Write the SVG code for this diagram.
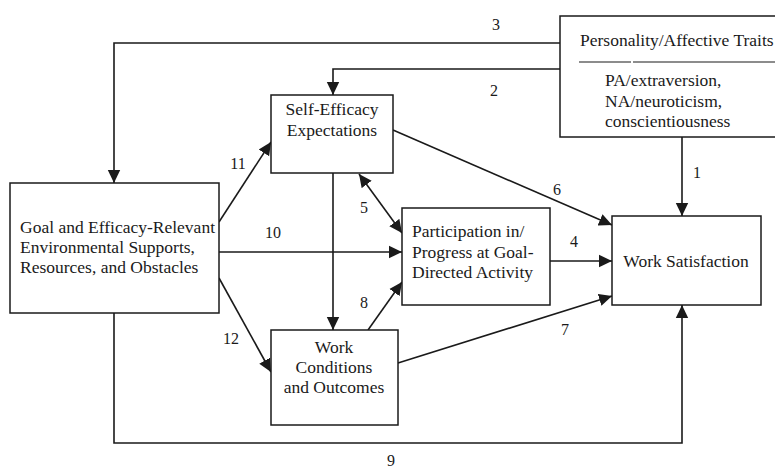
<svg xmlns="http://www.w3.org/2000/svg" width="775" height="470" viewBox="0 0 775 470">
  <style>
    .box { fill: #ffffff; stroke: #1a1a1a; stroke-width: 1.5; }
    .t { font-family: "Liberation Serif", "Times New Roman", serif; font-size: 17.5px; fill: #1a1a1a; }
    .c { text-anchor: middle; }
    .lbl { font-family: "Liberation Serif", "Times New Roman", serif; font-size: 16px; fill: #1a1a1a; text-anchor: middle; }
    .ln { fill: none; stroke: #1a1a1a; stroke-width: 1.6; }
    .arr { marker-end: url(#ah); }
    .bi { marker-start: url(#ahs); marker-end: url(#ah); }
  </style>
  <defs>
    <marker id="ah" markerUnits="userSpaceOnUse" markerWidth="14" markerHeight="14" viewBox="0 0 14 14" refX="13" refY="7" orient="auto">
      <path d="M0,0.8 L13,7 L0,13.2 Z" fill="#1a1a1a"/>
    </marker>
    <marker id="ahs" markerUnits="userSpaceOnUse" markerWidth="14" markerHeight="14" viewBox="0 0 14 14" refX="1" refY="7" orient="auto">
      <path d="M14,0.8 L1,7 L14,13.2 Z" fill="#1a1a1a"/>
    </marker>
  </defs>
  <rect width="775" height="470" fill="#ffffff"/>

  <g id="connectors">
    <line class="ln arr" x1="682" y1="137" x2="682" y2="216"/>
    <path class="ln arr" d="M560,69 H333 V95"/>
    <path class="ln arr" d="M560,43 H114 V183"/>
    <line class="ln arr" x1="550" y1="261" x2="612" y2="261"/>
    <line class="ln bi" x1="359" y1="174" x2="402" y2="233"/>
    <line class="ln arr" x1="393" y1="130" x2="612" y2="225"/>
    <line class="ln arr" x1="398" y1="363" x2="612" y2="296"/>
    <line class="ln arr" x1="368" y1="330" x2="402" y2="282"/>
    <path class="ln arr" d="M114,313 V443 H682 V305"/>
    <line class="ln arr" x1="219" y1="252" x2="402" y2="252"/>
    <line class="ln arr" x1="219" y1="222" x2="271" y2="142"/>
    <line class="ln arr" x1="219" y1="278" x2="271" y2="372"/>
    <line class="ln arr" x1="333" y1="173" x2="333" y2="330"/>
    <text class="lbl" x="697" y="178">1</text>
    <text class="lbl" x="494" y="96">2</text>
    <text class="lbl" x="496" y="30">3</text>
    <text class="lbl" x="574" y="247">4</text>
    <text class="lbl" x="364" y="213">5</text>
    <text class="lbl" x="557" y="195">6</text>
    <text class="lbl" x="565" y="335">7</text>
    <text class="lbl" x="364" y="308">8</text>
    <text class="lbl" x="391" y="466">9</text>
    <text class="lbl" x="273" y="238">10</text>
    <text class="lbl" x="238" y="169">11</text>
    <text class="lbl" x="231" y="344">12</text>
  </g>

  <g id="personality">
    <rect class="box" x="560" y="16" width="222" height="121"/>
    <text class="t" x="580" y="46">Personality/Affective Traits</text>
    <line x1="579" y1="62" x2="631" y2="62" stroke="#1a1a1a" stroke-width="1.2"/>
    <line x1="633" y1="62" x2="780" y2="62" stroke="#1a1a1a" stroke-width="1.2"/>
    <text class="t" x="605" y="86">PA/extraversion,</text>
    <text class="t" x="605" y="106.5">NA/neuroticism,</text>
    <text class="t" x="605" y="126.5">conscientiousness</text>
  </g>

  <g id="self-efficacy">
    <rect class="box" x="271" y="95" width="122" height="78"/>
    <text class="t c" x="332" y="115">Self-Efficacy</text>
    <text class="t c" x="332" y="136">Expectations</text>
  </g>

  <g id="goal">
    <rect class="box" x="10" y="183" width="209" height="130"/>
    <text class="t" x="20" y="232.5">Goal and Efficacy-Relevant</text>
    <text class="t" x="20" y="253">Environmental Supports,</text>
    <text class="t" x="20" y="273">Resources, and Obstacles</text>
  </g>

  <g id="participation">
    <rect class="box" x="402" y="208" width="148" height="97"/>
    <text class="t" x="412" y="237">Participation in/</text>
    <text class="t" x="412" y="257.5">Progress at Goal-</text>
    <text class="t" x="412" y="278">Directed Activity</text>
  </g>

  <g id="work-satisfaction">
    <rect class="box" x="612" y="216" width="149" height="89"/>
    <text class="t c" x="686" y="267">Work Satisfaction</text>
  </g>

  <g id="work-conditions">
    <rect class="box" x="271" y="330" width="127" height="95"/>
    <text class="t c" x="334" y="353">Work</text>
    <text class="t c" x="334" y="373">Conditions</text>
    <text class="t c" x="334" y="393">and Outcomes</text>
  </g>
</svg>
